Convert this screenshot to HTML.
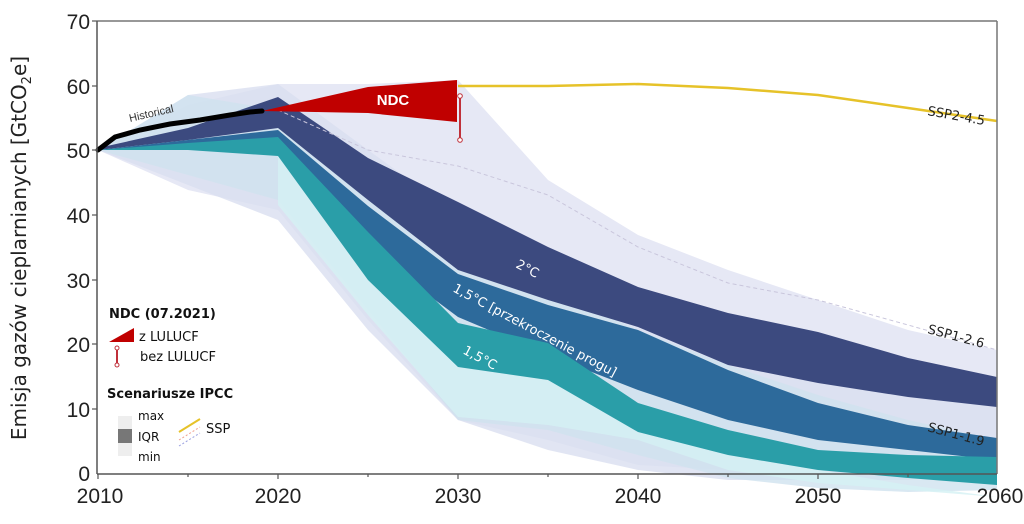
<!DOCTYPE html>
<html><head><meta charset="utf-8"><style>
html,body{margin:0;padding:0;background:#fff;}
svg{display:block;font-family:"Liberation Sans",sans-serif;}
.o{font-family:"DejaVu Sans","Liberation Sans",sans-serif;}
</style></head><body>
<svg width="1024" height="524" viewBox="0 0 1024 524">
<polygon points="98,150 188,105 278,84 368,84 458,80 548,180 638,235 728,270 818,300 908,330 997,350 997,450 908,470 818,470 728,470 638,465 548,440 458,420 368,320 278,210 188,190 98,150" fill="#e6e8f5"/>
<polygon points="98,150 188,95 278,84 368,150 458,215 548,265 638,300 728,325 818,345 908,368 997,380 997,465 908,480 818,480 728,480 638,470 548,450 458,420 368,330 278,220 98,150" fill="#dadff0" opacity="0.8"/>
<polygon points="98,150 188,95 278,110 368,200 458,255 548,290 638,330 728,365 818,395 908,420 997,440 997,490 908,492 818,488 728,478 638,455 548,430 458,420 368,310 278,200 98,150" fill="#cfe2ef" opacity="0.8"/>
<polygon points="278,156 368,280 458,367 548,380 638,432 728,455 818,470 908,485 997,497 818,483 728,470 638,440 548,425 458,417 368,315 278,205" fill="#d5f1f4" opacity="0.8"/>
<polygon points="98,148 188,128 278,97 368,158 458,202 548,247 638,287 728,313 818,332 908,358 997,377 997,407 908,397 818,383 728,365 638,327 548,300 458,270 368,200 278,128 188,140 98,150" fill="#3c4a7f"/>
<polygon points="98,150 188,140 278,130 368,206 458,274 548,305 638,330 728,370 818,403 908,425 997,438 997,460 908,450 818,440 728,420 638,390 548,355 458,317 368,250 278,152 188,148" fill="#2d6a9b"/>
<polygon points="98,150 188,143 278,137 368,232 458,323 548,343 638,403 728,430 818,450 908,455 997,457 997,485 908,478 818,470 728,455 638,432 548,380 458,367 368,280 278,156 188,150" fill="#2a9ea8"/>
<polyline points="278,110 368,150 458,166 548,195 638,247 728,283 818,300 908,325 997,350" fill="none" stroke="#c9c6dc" stroke-width="1" stroke-dasharray="4,3"/>
<polyline points="458,86 548,86 638,84 728,88 818,95 908,108 997,121" fill="none" stroke="#e6c229" stroke-width="2.5"/>
<polygon points="262,111 368,87 457,80 457,122 368,113" fill="#c00000"/>
<text x="393" y="105" font-size="15" font-weight="bold" fill="#fff" text-anchor="middle">NDC</text>
<line x1="460" y1="96" x2="460" y2="140" stroke="#c0303a" stroke-width="2"/>
<circle cx="460" cy="96" r="2.3" fill="#fff" stroke="#c0303a"/>
<circle cx="460" cy="140" r="2.3" fill="#fff" stroke="#c0303a"/>
<polyline points="98,150 115,137 140,130 170,124 200,120 230,115 250,112 262,111" fill="none" stroke="#000" stroke-width="5" stroke-linecap="round"/>
<text x="130" y="122" font-size="11" fill="#333" transform="rotate(-13 130 122)">Historical</text>
<line x1="97" y1="21" x2="997" y2="21" stroke="#777" stroke-width="1.5"/>
<line x1="97" y1="21" x2="97" y2="474" stroke="#555" stroke-width="1.5"/>
<line x1="997" y1="21" x2="997" y2="474" stroke="#777" stroke-width="1.5"/>
<line x1="97" y1="474" x2="997" y2="474" stroke="#555" stroke-width="1.5"/>
<g stroke="#555" stroke-width="1.2">
<line x1="92" y1="21" x2="97" y2="21"/><line x1="92" y1="86" x2="97" y2="86"/><line x1="92" y1="150" x2="97" y2="150"/><line x1="92" y1="215" x2="97" y2="215"/><line x1="92" y1="280" x2="97" y2="280"/><line x1="92" y1="344" x2="97" y2="344"/><line x1="92" y1="409" x2="97" y2="409"/>
<line x1="98" y1="474" x2="98" y2="479"/><line x1="278" y1="474" x2="278" y2="479"/><line x1="458" y1="474" x2="458" y2="479"/><line x1="638" y1="474" x2="638" y2="479"/><line x1="818" y1="474" x2="818" y2="479"/><line x1="188" y1="474" x2="188" y2="477"/><line x1="368" y1="474" x2="368" y2="477"/><line x1="548" y1="474" x2="548" y2="477"/><line x1="728" y1="474" x2="728" y2="477"/><line x1="908" y1="474" x2="908" y2="477"/>
</g>
<g font-size="21" fill="#222" text-anchor="end">
<text x="90" y="29">70</text><text x="90" y="94">60</text><text x="90" y="158">50</text><text x="90" y="223">40</text><text x="90" y="288">30</text><text x="90" y="352">20</text><text x="90" y="417">10</text><text x="90" y="481">0</text>
</g>
<g font-size="21" fill="#222" text-anchor="middle">
<text x="100" y="503">2010</text><text x="278" y="503">2020</text><text x="458" y="503">2030</text><text x="638" y="503">2040</text><text x="818" y="503">2050</text><text x="1000" y="503">2060</text>
</g>
<text transform="translate(26 248) rotate(-90)" font-size="20" fill="#222" text-anchor="middle" class="o">Emisja gazów cieplarnianych [GtCO<tspan font-size="13" dy="5">2</tspan><tspan dy="-5">e]</tspan></text>
<g class="o" font-size="13" fill="#fff">
<text x="515" y="267" transform="rotate(28 515 267)">2°C</text>
<text x="452" y="291" transform="rotate(28 452 291)">1,5°C [przekroczenie progu]</text>
<text x="462" y="353" transform="rotate(28 462 353)">1,5°C</text>
</g>
<g class="o" font-size="13" fill="#222">
<text x="927" y="115" transform="rotate(10 927 115)">SSP2-4.5</text>
<text x="927" y="333" transform="rotate(15 927 333)">SSP1-2.6</text>
<text x="927" y="431" transform="rotate(15 927 431)">SSP1-1.9</text>
</g>
<rect x="103" y="297" width="140" height="168" fill="#fff" opacity="0.95"/>
<g class="o" fill="#111">
<text x="109" y="318" font-size="13" font-weight="bold">NDC (07.2021)</text>
<polygon points="109,342 134,328 134,342" fill="#c00000"/>
<text x="139" y="341" font-size="13">z LULUCF</text>
<line x1="117" y1="348" x2="117" y2="365" stroke="#c0303a" stroke-width="2"/>
<circle cx="117" cy="348" r="2" fill="#fff" stroke="#c0303a"/><circle cx="117" cy="365" r="2" fill="#fff" stroke="#c0303a"/>
<text x="140" y="361" font-size="13">bez LULUCF</text>
<text x="107" y="398" font-size="13" font-weight="bold">Scenariusze IPCC</text>
<rect x="118" y="416" width="14" height="40" fill="#eee"/>
<rect x="118" y="429" width="14" height="14" fill="#777"/>
<text x="138" y="420" font-size="12">max</text>
<text x="138" y="441" font-size="12">IQR</text>
<text x="138" y="461" font-size="12">min</text>
<line x1="179" y1="432" x2="200" y2="419" stroke="#e6c229" stroke-width="2"/>
<line x1="179" y1="440" x2="200" y2="427" stroke="#f0a090" stroke-width="1" stroke-dasharray="2,2"/>
<line x1="179" y1="446" x2="200" y2="433" stroke="#9aa0e0" stroke-width="1" stroke-dasharray="2,2"/>
<text x="206" y="433" font-size="13">SSP</text>
</g>
</svg>
</body></html>
